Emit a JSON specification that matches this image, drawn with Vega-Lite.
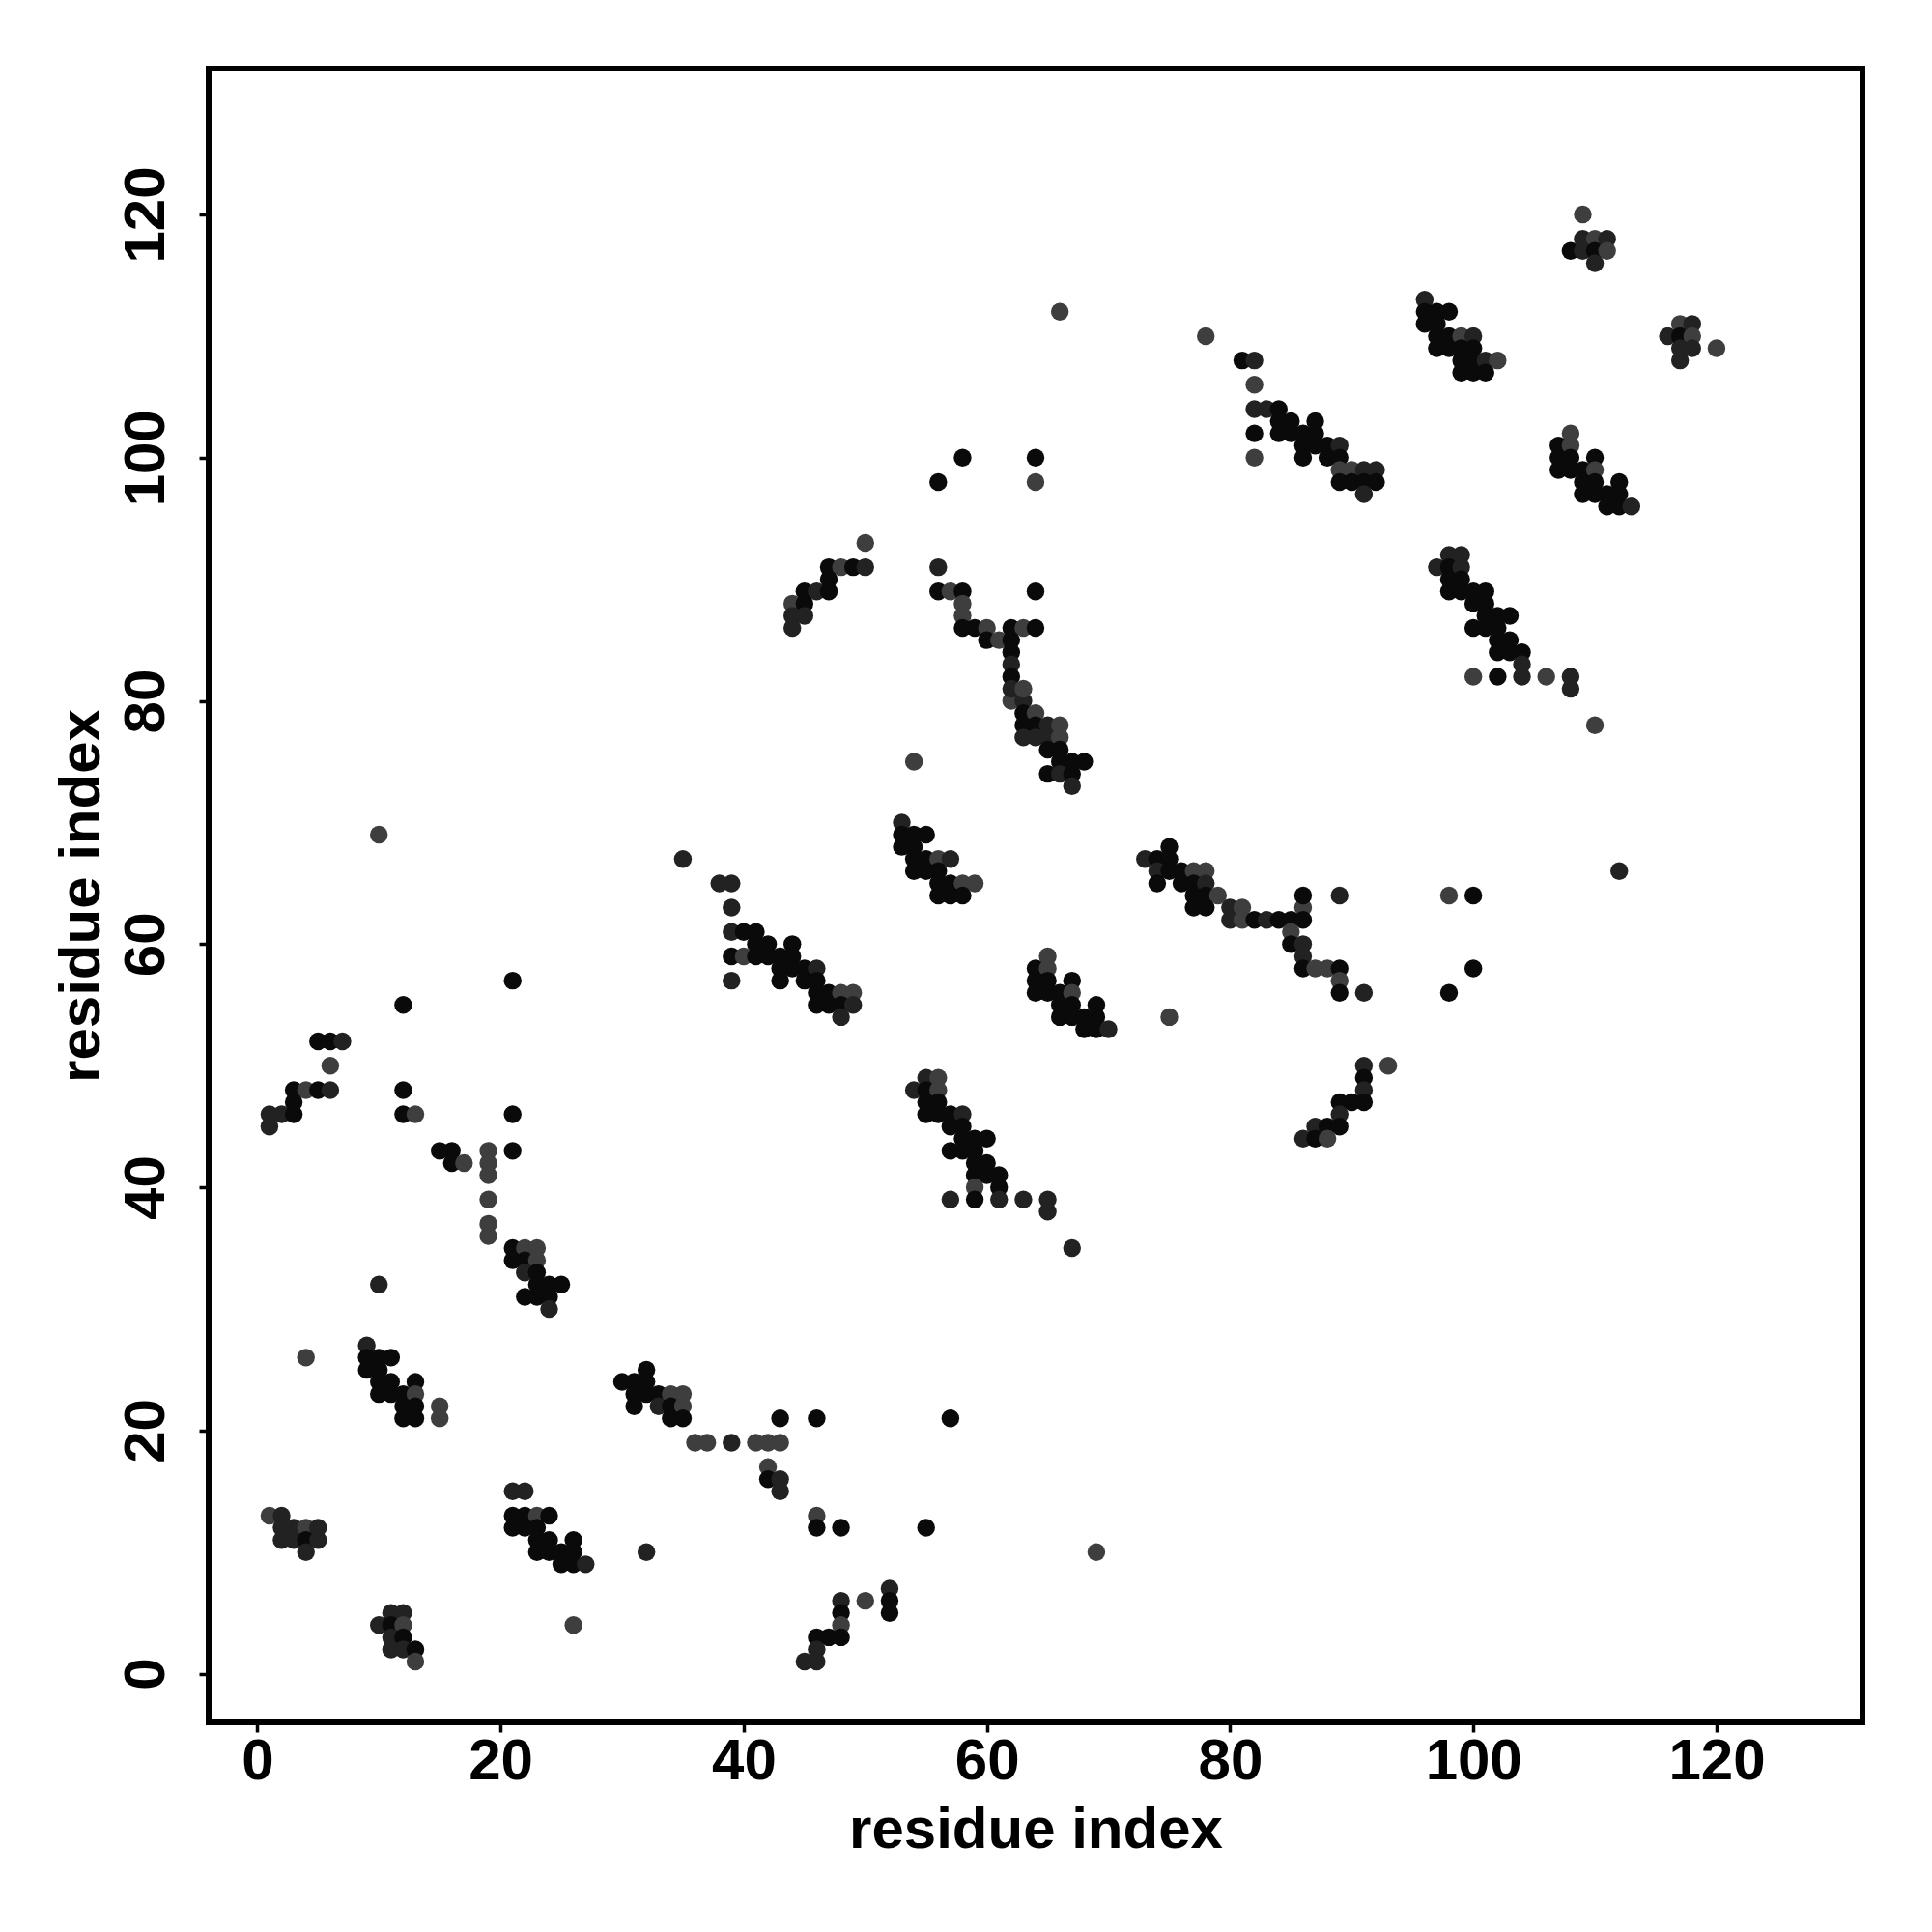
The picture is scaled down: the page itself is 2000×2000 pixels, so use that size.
{
"$schema":"https://vega.github.io/schema/vega-lite/v6.json",
"width":1712,"height":1712,
"autosize":{"type":"none"},
"padding":{"left":216,"top":71,"right":72,"bottom":217},
"background":"white",
"config":{"view":{"stroke":"black","strokeWidth":6},"font":"Liberation Sans"},
"data":{"values":[
{"x":21,"y":35,"s":1},{"x":22,"y":35,"s":3},{"x":23,"y":35,"s":3},{"x":21,"y":34,"s":1},{"x":22,"y":34,"s":1},{"x":23,"y":34,"s":3},{"x":22,"y":33,"s":2},{"x":23,"y":33,"s":1},{"x":23,"y":32,"s":1},{"x":24,"y":32,"s":1},{"x":25,"y":32,"s":1},{"x":22,"y":31,"s":1},{"x":23,"y":31,"s":1},{"x":24,"y":31,"s":1},{"x":24,"y":30,"s":2},
{"x":10,"y":32,"s":2},{"x":4,"y":26,"s":3},{"x":19,"y":39,"s":3},{"x":19,"y":37,"s":3},{"x":19,"y":36,"s":3},{"x":19,"y":43,"s":3},{"x":19,"y":42,"s":3},{"x":19,"y":41,"s":3},
{"x":9,"y":27,"s":2},{"x":9,"y":26,"s":1},{"x":10,"y":26,"s":1},{"x":11,"y":26,"s":1},{"x":9,"y":25,"s":1},{"x":10,"y":25,"s":1},{"x":10,"y":24,"s":1},{"x":11,"y":24,"s":1},{"x":13,"y":24,"s":1},{"x":10,"y":23,"s":1},{"x":11,"y":23,"s":1},{"x":12,"y":23,"s":1},{"x":13,"y":23,"s":3},{"x":12,"y":22,"s":1},{"x":13,"y":22,"s":1},{"x":15,"y":22,"s":3},{"x":12,"y":21,"s":1},{"x":13,"y":21,"s":1},{"x":15,"y":21,"s":3},
{"x":32,"y":25,"s":1},{"x":30,"y":24,"s":1},{"x":31,"y":24,"s":1},{"x":32,"y":24,"s":1},{"x":31,"y":23,"s":1},{"x":32,"y":23,"s":1},{"x":33,"y":23,"s":1},{"x":34,"y":23,"s":3},{"x":35,"y":23,"s":3},{"x":31,"y":22,"s":1},{"x":33,"y":22,"s":2},{"x":34,"y":22,"s":1},{"x":35,"y":22,"s":3},{"x":34,"y":21,"s":1},{"x":35,"y":21,"s":1},
{"x":36,"y":19,"s":3},{"x":37,"y":19,"s":3},{"x":39,"y":19,"s":2},{"x":41,"y":19,"s":3},{"x":42,"y":19,"s":3},{"x":43,"y":19,"s":3},
{"x":21,"y":15,"s":2},{"x":22,"y":15,"s":2},{"x":21,"y":13,"s":1},{"x":22,"y":13,"s":1},{"x":23,"y":13,"s":3},{"x":24,"y":13,"s":1},{"x":21,"y":12,"s":1},{"x":22,"y":12,"s":1},{"x":23,"y":12,"s":1},{"x":23,"y":11,"s":1},{"x":24,"y":11,"s":1},{"x":26,"y":11,"s":1},{"x":23,"y":10,"s":1},{"x":24,"y":10,"s":1},{"x":25,"y":10,"s":1},{"x":26,"y":10,"s":1},{"x":25,"y":9,"s":1},{"x":26,"y":9,"s":1},{"x":27,"y":9,"s":2},
{"x":1,"y":13,"s":3},{"x":2,"y":13,"s":2},{"x":2,"y":12,"s":2},{"x":3,"y":12,"s":2},{"x":4,"y":12,"s":3},{"x":5,"y":12,"s":2},{"x":2,"y":11,"s":2},{"x":3,"y":11,"s":2},{"x":4,"y":11,"s":1},{"x":5,"y":11,"s":2},{"x":4,"y":10,"s":2},
{"x":11,"y":5,"s":2},{"x":12,"y":5,"s":2},{"x":10,"y":4,"s":2},{"x":11,"y":4,"s":1},{"x":12,"y":4,"s":3},{"x":11,"y":3,"s":2},{"x":12,"y":3,"s":1},{"x":11,"y":2,"s":2},{"x":12,"y":2,"s":2},{"x":13,"y":2,"s":1},{"x":13,"y":1,"s":3},
{"x":32,"y":10,"s":2},{"x":26,"y":4,"s":3},
{"x":67,"y":35,"s":2},{"x":43,"y":21,"s":1},{"x":46,"y":21,"s":1},{"x":57,"y":21,"s":1},{"x":42,"y":17,"s":3},{"x":42,"y":16,"s":1},{"x":43,"y":16,"s":2},{"x":43,"y":15,"s":2},{"x":46,"y":13,"s":3},{"x":46,"y":12,"s":1},{"x":48,"y":12,"s":1},{"x":55,"y":12,"s":1},{"x":69,"y":10,"s":3},{"x":52,"y":7,"s":2},{"x":48,"y":6,"s":2},{"x":50,"y":6,"s":3},{"x":52,"y":6,"s":1},{"x":48,"y":5,"s":1},{"x":52,"y":5,"s":1},{"x":48,"y":4,"s":3},{"x":46,"y":3,"s":1},{"x":47,"y":3,"s":1},{"x":48,"y":3,"s":1},{"x":46,"y":2,"s":2},{"x":45,"y":1,"s":2},{"x":46,"y":1,"s":2},
{"x":10,"y":69,"s":3},{"x":35,"y":67,"s":2},{"x":21,"y":57,"s":1},{"x":12,"y":55,"s":1},{"x":5,"y":52,"s":1},{"x":6,"y":52,"s":1},{"x":7,"y":52,"s":2},{"x":6,"y":50,"s":3},{"x":3,"y":48,"s":1},{"x":4,"y":48,"s":3},{"x":5,"y":48,"s":1},{"x":6,"y":48,"s":2},{"x":12,"y":48,"s":1},{"x":3,"y":47,"s":1},{"x":1,"y":46,"s":2},{"x":2,"y":46,"s":2},{"x":3,"y":46,"s":1},{"x":12,"y":46,"s":1},{"x":13,"y":46,"s":3},{"x":21,"y":46,"s":1},{"x":1,"y":45,"s":2},{"x":15,"y":43,"s":1},{"x":16,"y":43,"s":1},{"x":21,"y":43,"s":1},{"x":16,"y":42,"s":1},{"x":17,"y":42,"s":3},
{"x":38,"y":65,"s":2},{"x":39,"y":65,"s":2},{"x":39,"y":63,"s":2},{"x":39,"y":61,"s":2},{"x":40,"y":61,"s":1},{"x":41,"y":61,"s":1},{"x":41,"y":60,"s":1},{"x":42,"y":60,"s":1},{"x":44,"y":60,"s":1},{"x":39,"y":59,"s":1},{"x":40,"y":59,"s":3},{"x":41,"y":59,"s":1},{"x":42,"y":59,"s":1},{"x":43,"y":59,"s":1},{"x":44,"y":59,"s":1},{"x":43,"y":58,"s":1},{"x":44,"y":58,"s":1},{"x":45,"y":58,"s":1},{"x":46,"y":58,"s":2},{"x":39,"y":57,"s":2},{"x":43,"y":57,"s":1},{"x":45,"y":57,"s":1},{"x":46,"y":57,"s":1},{"x":46,"y":56,"s":1},{"x":47,"y":56,"s":1},{"x":48,"y":56,"s":3},{"x":49,"y":56,"s":3},{"x":46,"y":55,"s":1},{"x":47,"y":55,"s":1},{"x":48,"y":55,"s":1},{"x":49,"y":55,"s":2},{"x":48,"y":54,"s":2},
{"x":62,"y":80,"s":3},{"x":63,"y":80,"s":2},{"x":63,"y":79,"s":1},{"x":64,"y":79,"s":3},{"x":63,"y":78,"s":1},{"x":64,"y":78,"s":1},{"x":65,"y":78,"s":2},{"x":66,"y":78,"s":3},{"x":63,"y":77,"s":2},{"x":64,"y":77,"s":2},{"x":65,"y":77,"s":2},{"x":66,"y":77,"s":3},{"x":65,"y":76,"s":1},{"x":66,"y":76,"s":1},{"x":66,"y":75,"s":1},{"x":67,"y":75,"s":1},{"x":68,"y":75,"s":1},{"x":65,"y":74,"s":1},{"x":66,"y":74,"s":2},{"x":67,"y":74,"s":1},{"x":67,"y":73,"s":2},
{"x":54,"y":75,"s":3},
{"x":53,"y":70,"s":2},{"x":53,"y":69,"s":1},{"x":54,"y":69,"s":1},{"x":55,"y":69,"s":1},{"x":53,"y":68,"s":1},{"x":54,"y":68,"s":1},{"x":54,"y":67,"s":1},{"x":55,"y":67,"s":1},{"x":56,"y":67,"s":3},{"x":57,"y":67,"s":2},{"x":54,"y":66,"s":1},{"x":55,"y":66,"s":1},{"x":56,"y":66,"s":1},{"x":56,"y":65,"s":1},{"x":57,"y":65,"s":1},{"x":58,"y":65,"s":3},{"x":59,"y":65,"s":3},{"x":56,"y":64,"s":1},{"x":57,"y":64,"s":1},{"x":58,"y":64,"s":1},
{"x":75,"y":68,"s":1},{"x":73,"y":67,"s":2},{"x":74,"y":67,"s":1},{"x":75,"y":67,"s":1},{"x":74,"y":66,"s":2},{"x":75,"y":66,"s":1},{"x":76,"y":66,"s":1},{"x":77,"y":66,"s":3},{"x":78,"y":66,"s":3},{"x":74,"y":65,"s":1},{"x":76,"y":65,"s":1},{"x":77,"y":65,"s":1},{"x":78,"y":65,"s":2},{"x":77,"y":64,"s":1},{"x":78,"y":64,"s":1},{"x":79,"y":64,"s":3},{"x":77,"y":63,"s":1},{"x":78,"y":63,"s":1},{"x":80,"y":63,"s":2},{"x":81,"y":63,"s":3},{"x":86,"y":63,"s":3},{"x":80,"y":62,"s":2},{"x":81,"y":62,"s":3},{"x":82,"y":62,"s":1},{"x":83,"y":62,"s":2},{"x":84,"y":62,"s":1},{"x":85,"y":62,"s":1},{"x":86,"y":62,"s":1},{"x":85,"y":61,"s":3},{"x":85,"y":60,"s":1},{"x":86,"y":60,"s":2},{"x":86,"y":59,"s":2},{"x":86,"y":58,"s":1},{"x":87,"y":58,"s":3},{"x":88,"y":58,"s":3},{"x":89,"y":58,"s":1},{"x":89,"y":57,"s":3},{"x":89,"y":56,"s":1},{"x":91,"y":56,"s":2},{"x":86,"y":64,"s":1},{"x":89,"y":64,"s":2},{"x":98,"y":64,"s":3},{"x":100,"y":64,"s":1},{"x":100,"y":58,"s":1},{"x":98,"y":56,"s":1},
{"x":65,"y":59,"s":3},{"x":64,"y":58,"s":1},{"x":65,"y":58,"s":3},{"x":64,"y":57,"s":1},{"x":65,"y":57,"s":1},{"x":67,"y":57,"s":1},{"x":64,"y":56,"s":1},{"x":65,"y":56,"s":1},{"x":66,"y":56,"s":1},{"x":67,"y":56,"s":3},{"x":66,"y":55,"s":1},{"x":67,"y":55,"s":1},{"x":69,"y":55,"s":1},{"x":66,"y":54,"s":1},{"x":67,"y":54,"s":1},{"x":68,"y":54,"s":1},{"x":69,"y":54,"s":1},{"x":68,"y":53,"s":1},{"x":69,"y":53,"s":1},{"x":70,"y":53,"s":2},
{"x":75,"y":54,"s":3},
{"x":55,"y":49,"s":2},{"x":56,"y":49,"s":3},{"x":54,"y":48,"s":2},{"x":55,"y":48,"s":1},{"x":56,"y":48,"s":3},{"x":55,"y":47,"s":1},{"x":56,"y":47,"s":1},{"x":55,"y":46,"s":1},{"x":56,"y":46,"s":1},{"x":57,"y":46,"s":1},{"x":58,"y":46,"s":2},{"x":57,"y":45,"s":1},{"x":58,"y":45,"s":1},{"x":58,"y":44,"s":1},{"x":59,"y":44,"s":1},{"x":60,"y":44,"s":1},{"x":57,"y":43,"s":1},{"x":58,"y":43,"s":1},{"x":59,"y":43,"s":1},{"x":59,"y":42,"s":1},{"x":60,"y":42,"s":1},{"x":59,"y":41,"s":1},{"x":60,"y":41,"s":1},{"x":61,"y":41,"s":1},{"x":59,"y":40,"s":3},{"x":61,"y":40,"s":1},{"x":57,"y":39,"s":2},{"x":59,"y":39,"s":1},{"x":61,"y":39,"s":2},{"x":63,"y":39,"s":2},{"x":65,"y":39,"s":2},{"x":65,"y":38,"s":2},
{"x":110,"y":78,"s":3},{"x":112,"y":66,"s":2},
{"x":91,"y":50,"s":2},{"x":93,"y":50,"s":3},{"x":91,"y":49,"s":1},{"x":91,"y":48,"s":2},{"x":89,"y":47,"s":1},{"x":90,"y":47,"s":1},{"x":91,"y":47,"s":1},{"x":89,"y":46,"s":2},{"x":87,"y":45,"s":2},{"x":88,"y":45,"s":1},{"x":89,"y":45,"s":1},{"x":86,"y":44,"s":2},{"x":87,"y":44,"s":1},{"x":88,"y":44,"s":3},
{"x":66,"y":112,"s":3},{"x":78,"y":110,"s":3},{"x":58,"y":100,"s":1},{"x":64,"y":100,"s":1},{"x":56,"y":98,"s":1},{"x":64,"y":98,"s":3},{"x":50,"y":93,"s":3},
{"x":47,"y":91,"s":1},{"x":48,"y":91,"s":3},{"x":49,"y":91,"s":1},{"x":50,"y":91,"s":2},{"x":47,"y":90,"s":1},{"x":45,"y":89,"s":1},{"x":46,"y":89,"s":2},{"x":47,"y":89,"s":1},{"x":44,"y":88,"s":3},{"x":45,"y":88,"s":1},{"x":44,"y":87,"s":2},{"x":45,"y":87,"s":2},{"x":44,"y":86,"s":2},
{"x":56,"y":91,"s":2},{"x":56,"y":89,"s":1},{"x":57,"y":89,"s":3},{"x":58,"y":89,"s":1},{"x":64,"y":89,"s":1},{"x":58,"y":88,"s":3},{"x":58,"y":87,"s":3},{"x":58,"y":86,"s":1},{"x":59,"y":86,"s":1},{"x":60,"y":86,"s":3},{"x":62,"y":86,"s":1},{"x":63,"y":86,"s":3},{"x":64,"y":86,"s":1},{"x":60,"y":85,"s":1},{"x":61,"y":85,"s":3},{"x":62,"y":85,"s":1},{"x":62,"y":84,"s":1},{"x":62,"y":83,"s":2},{"x":62,"y":82,"s":1},{"x":62,"y":81,"s":2},{"x":63,"y":81,"s":3},
{"x":109,"y":120,"s":3},{"x":109,"y":118,"s":2},{"x":110,"y":118,"s":3},{"x":111,"y":118,"s":2},{"x":108,"y":117,"s":1},{"x":109,"y":117,"s":2},{"x":110,"y":117,"s":1},{"x":111,"y":117,"s":3},{"x":110,"y":116,"s":2},
{"x":117,"y":111,"s":3},{"x":118,"y":111,"s":2},{"x":116,"y":110,"s":2},{"x":117,"y":110,"s":1},{"x":118,"y":110,"s":3},{"x":117,"y":109,"s":2},{"x":118,"y":109,"s":2},{"x":120,"y":109,"s":3},{"x":117,"y":108,"s":2},
{"x":81,"y":108,"s":1},{"x":82,"y":108,"s":2},{"x":82,"y":106,"s":3},{"x":82,"y":104,"s":2},{"x":83,"y":104,"s":2},{"x":84,"y":104,"s":1},{"x":84,"y":103,"s":1},{"x":85,"y":103,"s":1},{"x":87,"y":103,"s":1},{"x":82,"y":102,"s":1},{"x":84,"y":102,"s":1},{"x":85,"y":102,"s":1},{"x":86,"y":102,"s":1},{"x":87,"y":102,"s":1},{"x":86,"y":101,"s":1},{"x":87,"y":101,"s":1},{"x":88,"y":101,"s":1},{"x":89,"y":101,"s":2},{"x":82,"y":100,"s":3},{"x":86,"y":100,"s":1},{"x":88,"y":100,"s":1},{"x":89,"y":100,"s":1},{"x":89,"y":99,"s":3},{"x":90,"y":99,"s":3},{"x":91,"y":99,"s":2},{"x":92,"y":99,"s":2},{"x":89,"y":98,"s":1},{"x":90,"y":98,"s":1},{"x":91,"y":98,"s":1},{"x":92,"y":98,"s":1},{"x":91,"y":97,"s":2},
{"x":96,"y":113,"s":2},{"x":96,"y":112,"s":1},{"x":97,"y":112,"s":1},{"x":98,"y":112,"s":1},{"x":96,"y":111,"s":1},{"x":97,"y":111,"s":1},{"x":97,"y":110,"s":1},{"x":98,"y":110,"s":1},{"x":99,"y":110,"s":3},{"x":100,"y":110,"s":2},{"x":97,"y":109,"s":1},{"x":98,"y":109,"s":1},{"x":99,"y":109,"s":1},{"x":100,"y":109,"s":1},{"x":99,"y":108,"s":1},{"x":100,"y":108,"s":1},{"x":101,"y":108,"s":2},{"x":102,"y":108,"s":3},{"x":99,"y":107,"s":1},{"x":100,"y":107,"s":1},{"x":101,"y":107,"s":1},
{"x":108,"y":102,"s":3},{"x":107,"y":101,"s":1},{"x":108,"y":101,"s":3},{"x":107,"y":100,"s":1},{"x":108,"y":100,"s":1},{"x":110,"y":100,"s":1},{"x":107,"y":99,"s":1},{"x":108,"y":99,"s":1},{"x":109,"y":99,"s":1},{"x":110,"y":99,"s":3},{"x":109,"y":98,"s":1},{"x":110,"y":98,"s":1},{"x":112,"y":98,"s":1},{"x":109,"y":97,"s":1},{"x":110,"y":97,"s":1},{"x":111,"y":97,"s":1},{"x":112,"y":97,"s":1},{"x":111,"y":96,"s":1},{"x":112,"y":96,"s":1},{"x":113,"y":96,"s":2},
{"x":98,"y":92,"s":2},{"x":99,"y":92,"s":2},{"x":97,"y":91,"s":2},{"x":98,"y":91,"s":1},{"x":99,"y":91,"s":2},{"x":98,"y":90,"s":1},{"x":99,"y":90,"s":1},{"x":98,"y":89,"s":1},{"x":99,"y":89,"s":1},{"x":100,"y":89,"s":1},{"x":101,"y":89,"s":1},{"x":100,"y":88,"s":1},{"x":101,"y":88,"s":1},{"x":101,"y":87,"s":1},{"x":102,"y":87,"s":1},{"x":103,"y":87,"s":1},{"x":100,"y":86,"s":1},{"x":101,"y":86,"s":1},{"x":102,"y":86,"s":1},{"x":102,"y":85,"s":1},{"x":103,"y":85,"s":1},{"x":102,"y":84,"s":1},{"x":103,"y":84,"s":1},{"x":104,"y":84,"s":1},{"x":104,"y":83,"s":2},{"x":100,"y":82,"s":3},{"x":102,"y":82,"s":1},{"x":104,"y":82,"s":2},{"x":106,"y":82,"s":3},{"x":108,"y":82,"s":2},{"x":108,"y":81,"s":2}
]},
"mark":{"type":"circle","size":340,"opacity":1},
"encoding":{
"x":{"field":"x","type":"quantitative","scale":{"domain":[-4,132],"nice":false,"zero":false},
"axis":{"title":"residue index","values":[0,20,40,60,80,100,120],"grid":false,"domain":false,"tickSize":10,"tickWidth":3.5,"tickColor":"black","labelFont":"Liberation Sans","labelFontSize":60,"labelFontWeight":"bold","labelColor":"black","labelBaseline":"top","labelPadding":1,"labelFlush":false,"labelOverlap":false,"titleFont":"Liberation Sans","titleFontSize":60,"titleFontWeight":"bold","titleColor":"black","titleBaseline":"alphabetic","titleY":129}},
"y":{"field":"y","type":"quantitative","scale":{"domain":[-4,132],"nice":false,"zero":false},
"axis":{"title":"residue index","values":[0,20,40,60,80,100,120],"grid":false,"domain":false,"tickSize":10,"tickWidth":3.5,"tickColor":"black","labelFont":"Liberation Sans","labelFontSize":60,"labelFontWeight":"bold","labelColor":"black","labelAngle":-90,"labelAlign":"center","labelBaseline":"bottom","labelPadding":24,"labelFlush":false,"labelOverlap":false,"titleFont":"Liberation Sans","titleFontSize":60,"titleFontWeight":"bold","titleColor":"black","titleAngle":-90,"titleBaseline":"alphabetic","titleX":-114}},
"color":{"field":"s","type":"ordinal","scale":{"domain":[1,2,3],"range":["#0a0a0a","#222222","#3e3e3e"]},"legend":null}
}
}
